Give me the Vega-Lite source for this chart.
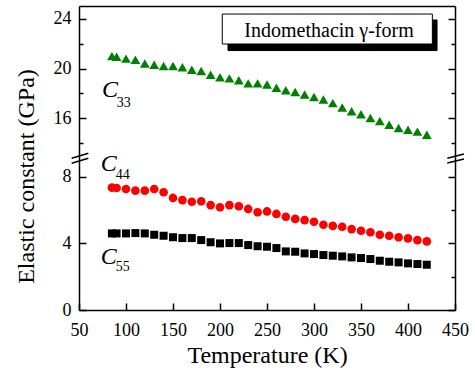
{
  "$schema": "https://vega.github.io/schema/vega-lite/v6.json",
  "padding": {"left": 14, "top": 6, "right": 5, "bottom": 5},
  "spacing": 0,
  "bounds": "flush",
  "config": {
    "view": {"stroke": null},
    "font": "Liberation Serif",
    "axis": {
      "grid": false,
      "domainColor": "black",
      "domainWidth": 1.5,
      "tickColor": "black",
      "tickWidth": 1.5,
      "labelFont": "Liberation Serif",
      "labelFontSize": 18,
      "labelColor": "black",
      "labelOverlap": false,
      "titleFont": "Liberation Serif",
      "titleFontSize": 24,
      "titleFontWeight": "normal",
      "titleColor": "black"
    }
  },
  "datasets": {
    "elastic": [
      {"T": 85, "C33": 21.0, "C44": 7.35, "C55": 4.6},
      {"T": 90, "C33": 20.95, "C44": 7.33, "C55": 4.6},
      {"T": 100, "C33": 20.8, "C44": 7.27, "C55": 4.6},
      {"T": 110, "C33": 20.7, "C44": 7.17, "C55": 4.62},
      {"T": 120, "C33": 20.4, "C44": 7.17, "C55": 4.6},
      {"T": 130, "C33": 20.3, "C44": 7.27, "C55": 4.52},
      {"T": 140, "C33": 20.2, "C44": 7.07, "C55": 4.46},
      {"T": 150, "C33": 20.2, "C44": 6.73, "C55": 4.37},
      {"T": 160, "C33": 20.1, "C44": 6.6, "C55": 4.32},
      {"T": 170, "C33": 19.9, "C44": 6.5, "C55": 4.32},
      {"T": 180, "C33": 19.8, "C44": 6.53, "C55": 4.2},
      {"T": 190, "C33": 19.5, "C44": 6.3, "C55": 4.07},
      {"T": 200, "C33": 19.3, "C44": 6.17, "C55": 4.0},
      {"T": 210, "C33": 19.2, "C44": 6.3, "C55": 4.02},
      {"T": 220, "C33": 19.05, "C44": 6.23, "C55": 4.02},
      {"T": 230, "C33": 18.8, "C44": 6.07, "C55": 3.9},
      {"T": 240, "C33": 18.8, "C44": 5.87, "C55": 3.83},
      {"T": 250, "C33": 18.7, "C44": 5.92, "C55": 3.8},
      {"T": 260, "C33": 18.45, "C44": 5.77, "C55": 3.72},
      {"T": 270, "C33": 18.25, "C44": 5.6, "C55": 3.52},
      {"T": 280, "C33": 18.1, "C44": 5.47, "C55": 3.5},
      {"T": 290, "C33": 17.9, "C44": 5.4, "C55": 3.4},
      {"T": 300, "C33": 17.7, "C44": 5.3, "C55": 3.36},
      {"T": 310, "C33": 17.5, "C44": 5.12, "C55": 3.3},
      {"T": 320, "C33": 17.2, "C44": 5.05, "C55": 3.26},
      {"T": 330, "C33": 16.85, "C44": 5.0, "C55": 3.22},
      {"T": 340, "C33": 16.55, "C44": 4.86, "C55": 3.16},
      {"T": 350, "C33": 16.3, "C44": 4.76, "C55": 3.12},
      {"T": 360, "C33": 16.0, "C44": 4.67, "C55": 3.06},
      {"T": 370, "C33": 15.75, "C44": 4.52, "C55": 2.96},
      {"T": 380, "C33": 15.45, "C44": 4.46, "C55": 2.9},
      {"T": 390, "C33": 15.2, "C44": 4.37, "C55": 2.86},
      {"T": 400, "C33": 15.05, "C44": 4.3, "C55": 2.8},
      {"T": 410, "C33": 14.9, "C44": 4.2, "C55": 2.76},
      {"T": 420, "C33": 14.65, "C44": 4.12, "C55": 2.72}
    ],
    "topLabels": [
      {"T": 74.5, "v": 17.67, "text": "C", "kind": "main"},
      {"T": 90.1, "v": 16.89, "text": "33", "kind": "sub"}
    ],
    "bottomLabels": [
      {"T": 73.1, "v": 8.37, "text": "C", "kind": "main"},
      {"T": 89, "v": 7.87, "text": "44", "kind": "sub"},
      {"T": 73.1, "v": 2.76, "text": "C", "kind": "main"},
      {"T": 89, "v": 2.36, "text": "55", "kind": "sub"}
    ],
    "legendBox": [
      {"part": "shadow", "T": 208.5, "T2": 430.9, "v": 23.92, "v2": 21.45},
      {"part": "box", "T": 202.4, "T2": 425.9, "v": 24.4, "v2": 21.98}
    ],
    "legendText": [
      {"T": 316, "v": 22.55, "text": "Indomethacin γ-form"}
    ],
    "breaks": [
      {"T": 42.2, "T2": 59.9, "v": 9.11, "v2": 9.41},
      {"T": 42.2, "T2": 59.9, "v": 8.81, "v2": 9.11},
      {"T": 441.8, "T2": 459.6, "v": 9.11, "v2": 9.37},
      {"T": 441.8, "T2": 459.6, "v": 8.83, "v2": 9.07}
    ]
  },
  "vconcat": [
    {
      "width": 376,
      "height": 150,
      "resolve": {"scale": {"y": "independent"}},
      "layer": [
        {
          "layer": [
            {
              "data": {"name": "elastic"},
              "mark": {"type": "point", "shape": "triangle-up", "filled": true, "color": "#008000", "size": 95, "opacity": 1},
              "encoding": {
                "x": {"field": "T", "type": "quantitative", "scale": {"domain": [50, 450], "nice": false},
                      "axis": {"orient": "top", "ticks": false, "labels": false, "title": null}},
                "y": {"field": "C33", "type": "quantitative", "scale": {"domain": [12.93, 25.05], "nice": false, "zero": false},
                      "axis": null}
              }
            },
            {
              "data": {"name": "legendBox"},
              "mark": {"type": "rect"},
              "encoding": {
                "x": {"field": "T", "type": "quantitative"},
                "x2": {"field": "T2"},
                "y": {"field": "v", "type": "quantitative", "axis": null},
                "y2": {"field": "v2"},
                "fill": {"field": "part", "type": "nominal", "scale": {"domain": ["shadow", "box"], "range": ["black", "white"]}, "legend": null},
                "stroke": {"field": "part", "type": "nominal", "scale": {"domain": ["shadow", "box"], "range": ["black", "black"]}, "legend": null},
                "strokeWidth": {"value": 1},
                "order": {"field": "part", "sort": "descending"}
              }
            },
            {
              "data": {"name": "legendText"},
              "mark": {"type": "text", "font": "Liberation Serif", "fontSize": 20, "align": "center", "baseline": "alphabetic", "color": "black"},
              "encoding": {
                "x": {"field": "T", "type": "quantitative"},
                "y": {"field": "v", "type": "quantitative", "axis": null},
                "text": {"field": "text"}
              }
            },
            {
              "data": {"name": "topLabels"},
              "transform": [{"filter": "datum.kind === 'main'"}],
              "mark": {"type": "text", "font": "Liberation Serif", "fontSize": 24, "fontStyle": "italic", "align": "left", "baseline": "alphabetic", "color": "black"},
              "encoding": {
                "x": {"field": "T", "type": "quantitative"},
                "y": {"field": "v", "type": "quantitative", "axis": null},
                "text": {"field": "text"}
              }
            },
            {
              "data": {"name": "topLabels"},
              "transform": [{"filter": "datum.kind === 'sub'"}],
              "mark": {"type": "text", "font": "Liberation Serif", "fontSize": 14, "align": "left", "baseline": "alphabetic", "color": "black"},
              "encoding": {
                "x": {"field": "T", "type": "quantitative"},
                "y": {"field": "v", "type": "quantitative", "axis": null},
                "text": {"field": "text"}
              }
            }
          ]
        },
        {
          "data": {"name": "elastic"},
          "mark": {"type": "point", "opacity": 0},
          "encoding": {
            "x": {"field": "T", "type": "quantitative", "scale": {"domain": [50, 450], "nice": false},
                  "axis": {"orient": "top", "ticks": false, "labels": false, "title": null}},
            "y": {"field": "C33", "type": "quantitative", "scale": {"domain": [12.93, 25.05], "nice": false, "zero": false},
                  "axis": {"orient": "left", "values": [14, 16, 18, 20, 22, 24],
                           "labelExpr": "datum.value % 4 === 0 ? datum.label : ''",
                           "tickSize": {"condition": {"test": "datum.value % 4 === 0", "value": -7}, "value": -4},
                           "labelPadding": 15,
                           "title": null}}
          }
        },
        {
          "data": {"name": "elastic"},
          "mark": {"type": "point", "opacity": 0},
          "encoding": {
            "x": {"field": "T", "type": "quantitative", "scale": {"domain": [50, 450], "nice": false},
                  "axis": {"orient": "top", "ticks": false, "labels": false, "title": null}},
            "y": {"field": "C33", "type": "quantitative", "scale": {"domain": [12.93, 25.05], "nice": false, "zero": false},
                  "axis": {"orient": "right", "values": [14, 16, 18, 20, 22, 24], "labels": false,
                           "tickSize": {"condition": {"test": "datum.value % 4 === 0", "value": -7}, "value": -4},
                           "title": null}}
          }
        }
      ]
    },
    {
      "width": 376,
      "height": 154,
      "resolve": {"scale": {"y": "independent"}},
      "layer": [
        {
          "layer": [
            {
              "data": {"name": "elastic"},
              "mark": {"type": "point", "shape": "circle", "filled": true, "color": "#ff0000", "size": 75, "opacity": 1},
              "encoding": {
                "x": {"field": "T", "type": "quantitative", "scale": {"domain": [50, 450], "nice": false},
                      "axis": {"orient": "bottom", "values": [50, 75, 100, 125, 150, 175, 200, 225, 250, 275, 300, 325, 350, 375, 400, 425, 450],
                               "labelExpr": "datum.value % 50 === 0 ? datum.label : ''",
                               "tickSize": {"condition": {"test": "datum.value % 50 === 0", "value": -7}, "value": -4},
                               "labelPadding": 18, "labelFlush": false,
                               "title": "Temperature (K)", "titlePadding": 4}},
                "y": {"field": "C44", "type": "quantitative", "scale": {"domain": [0, 9.25], "nice": false, "zero": false},
                      "axis": {"orient": "left", "values": [0, 2, 4, 6, 8],
                               "labelExpr": "datum.value % 4 === 0 ? datum.label : ''",
                               "tickSize": {"condition": {"test": "datum.value % 4 === 0", "value": -7}, "value": -4},
                               "labelPadding": 15,
                               "title": "Elastic constant (GPa)", "titleY": 20, "titlePadding": 24}}
              }
            },
            {
              "data": {"name": "elastic"},
              "mark": {"type": "point", "shape": "square", "filled": true, "color": "black", "size": 64, "opacity": 1},
              "encoding": {
                "x": {"field": "T", "type": "quantitative"},
                "y": {"field": "C55", "type": "quantitative"}
              }
            },
            {
              "data": {"name": "bottomLabels"},
              "transform": [{"filter": "datum.kind === 'main'"}],
              "mark": {"type": "text", "font": "Liberation Serif", "fontSize": 24, "fontStyle": "italic", "align": "left", "baseline": "alphabetic", "color": "black"},
              "encoding": {
                "x": {"field": "T", "type": "quantitative"},
                "y": {"field": "v", "type": "quantitative"},
                "text": {"field": "text"}
              }
            },
            {
              "data": {"name": "bottomLabels"},
              "transform": [{"filter": "datum.kind === 'sub'"}],
              "mark": {"type": "text", "font": "Liberation Serif", "fontSize": 14, "align": "left", "baseline": "alphabetic", "color": "black"},
              "encoding": {
                "x": {"field": "T", "type": "quantitative"},
                "y": {"field": "v", "type": "quantitative"},
                "text": {"field": "text"}
              }
            },
            {
              "data": {"name": "breaks"},
              "mark": {"type": "rule", "color": "black", "strokeWidth": 1.5},
              "encoding": {
                "x": {"field": "T", "type": "quantitative"},
                "x2": {"field": "T2"},
                "y": {"field": "v", "type": "quantitative"},
                "y2": {"field": "v2"}
              }
            }
          ]
        },
        {
          "data": {"name": "elastic"},
          "mark": {"type": "point", "opacity": 0},
          "encoding": {
            "x": {"field": "T", "type": "quantitative"},
            "y": {"field": "C55", "type": "quantitative", "scale": {"domain": [0, 9.25], "nice": false, "zero": false},
                  "axis": {"orient": "right", "values": [0, 2, 4, 6, 8], "labels": false,
                           "tickSize": {"condition": {"test": "datum.value % 4 === 0", "value": -7}, "value": -4},
                           "title": null}}
          }
        }
      ]
    }
  ]
}
